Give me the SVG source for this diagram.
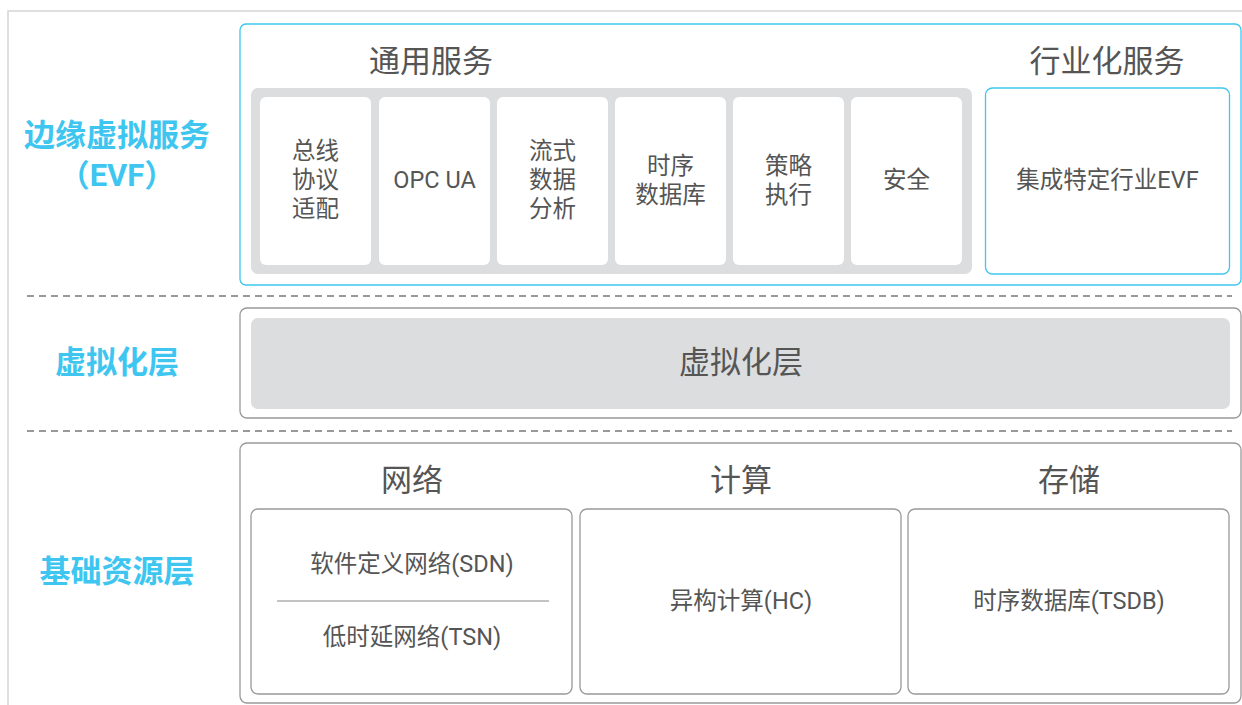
<svg xmlns="http://www.w3.org/2000/svg" width="1242" height="705" viewBox="0 0 1242 705">
<style>
text{font-family:Roboto,"Noto Sans CJK SC",sans-serif;text-anchor:middle;dominant-baseline:central}
.lbl{fill:#3ec6f0;font-size:31px;font-weight:bold}
.h{fill:#555;font-size:31px}
.t{fill:#555;font-size:23.5px}
.cyan{fill:#fff;stroke:#3ec6ee;stroke-width:1.3}
.gr{fill:#fff;stroke:#999;stroke-width:1.3}
.cell{fill:#fff}
.dash{stroke:#999;stroke-width:2;stroke-dasharray:7 5;fill:none}
</style>
<rect width="1242" height="705" fill="#fff"/>
<path d="M8 720V11H1250" fill="none" stroke="#d5d5d5" stroke-width="1.5"/>
<g id="labels">
<text class="lbl" x="117" y="135">边缘虚拟服务</text>
<text class="lbl" x="117" y="175">（EVF）</text>
<text class="lbl" x="117" y="362">虚拟化层</text>
<text class="lbl" x="117" y="571">基础资源层</text>
</g>
<g id="evf">
<rect class="cyan" x="240" y="24" width="1001" height="261" rx="6"/>
<text class="h" x="431" y="61">通用服务</text>
<text class="h" x="1107" y="61">行业化服务</text>
<rect x="251" y="88" width="721" height="186" rx="7" fill="#dcdddf"/>
</g>
<g id="n1"><rect class="cell" x="260" y="97" width="111" height="168" rx="6"/><text class="t" x="315.5" y="151">总线</text><text class="t" x="315.5" y="180">协议</text><text class="t" x="315.5" y="209">适配</text></g>
<g id="n2"><rect class="cell" x="379" y="97" width="111" height="168" rx="6"/><text class="t" x="434.5" y="180">OPC UA</text></g>
<g id="n3"><rect class="cell" x="497" y="97" width="111" height="168" rx="6"/><text class="t" x="552.5" y="151">流式</text><text class="t" x="552.5" y="180">数据</text><text class="t" x="552.5" y="209">分析</text></g>
<g id="n4"><rect class="cell" x="615" y="97" width="111" height="168" rx="6"/><text class="t" x="670.5" y="166">时序</text><text class="t" x="670.5" y="195">数据库</text></g>
<g id="n5"><rect class="cell" x="733" y="97" width="111" height="168" rx="6"/><text class="t" x="788.5" y="166">策略</text><text class="t" x="788.5" y="195">执行</text></g>
<g id="n6"><rect class="cell" x="851" y="97" width="111" height="168" rx="6"/><text class="t" x="906.5" y="180">安全</text></g>
<g id="n7"><rect class="cyan" x="985.5" y="88" width="244" height="186" rx="7"/><text class="t" x="1107.5" y="180">集成特定行业EVF</text></g>
<g id="connectors">
<line class="dash" x1="27" y1="296" x2="1232" y2="296"/>
<line class="dash" x1="27" y1="431" x2="1232" y2="431"/>
</g>
<g id="virt">
<rect class="gr" x="240" y="308" width="1001" height="110" rx="7"/>
<rect x="251" y="318" width="979" height="91" rx="7" fill="#dcdddf"/>
<text class="h" x="741" y="362">虚拟化层</text>
</g>
<g id="base">
<rect class="gr" x="240" y="443" width="1001" height="260" rx="7"/>
<text class="h" x="412" y="480">网络</text>
<text class="h" x="741" y="480">计算</text>
<text class="h" x="1069" y="480">存储</text>
</g>
<g id="net"><rect class="gr" x="251" y="509" width="321" height="185" rx="7"/><text class="t" x="412" y="564">软件定义网络(SDN)</text><line x1="277" y1="601" x2="549" y2="601" stroke="#888" stroke-width="1.2"/><text class="t" x="412" y="637">低时延网络(TSN)</text></g>
<g id="comp"><rect class="gr" x="580" y="509" width="321" height="185" rx="7"/><text class="t" x="741" y="601">异构计算(HC)</text></g>
<g id="stor"><rect class="gr" x="908" y="509" width="321" height="185" rx="7"/><text class="t" x="1069" y="601">时序数据库(TSDB)</text></g>
</svg>
